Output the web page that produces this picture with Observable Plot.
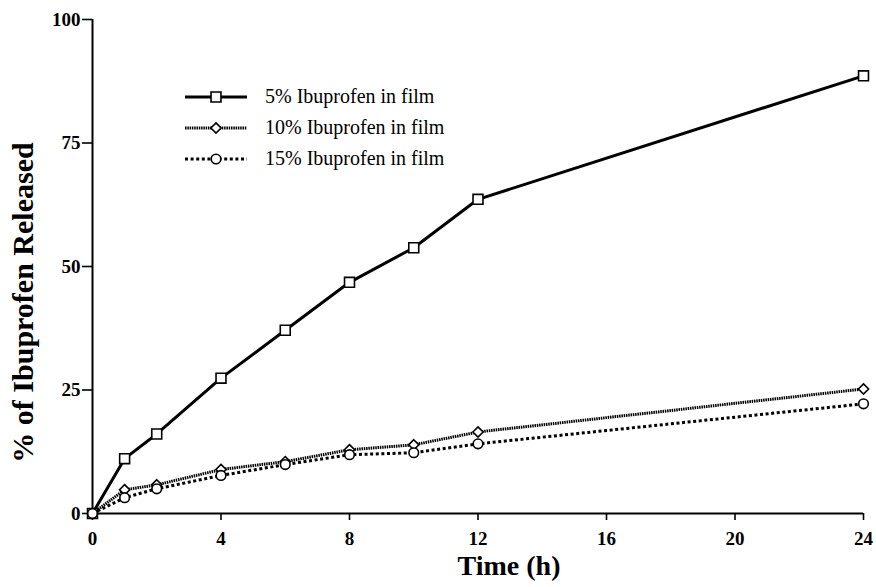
<!DOCTYPE html>
<html>
<head>
<meta charset="utf-8">
<script src="https://cdn.jsdelivr.net/npm/d3@7"></script>
<script src="https://cdn.jsdelivr.net/npm/@observablehq/plot@0.6"></script>
<style>
  body { margin: 0; background: #fff; }
  #wrap { position: relative; width: 876px; height: 587px; font-family: "Liberation Serif", "Times New Roman", serif; }
  #legend { position: absolute; left: 183px; top: 81px; }
  .row { display: flex; align-items: center; height: 31px; }
  .row svg { display: block; }
  .row span { font-size: 20px; margin-left: 16px; color: #000; white-space: nowrap; }
</style>
</head>
<body>
<div id="wrap"></div>
<script>
const times = [0, 1, 2, 4, 6, 8, 10, 12, 24];
const series5 = [0, 11.1, 16.1, 27.4, 37.1, 46.8, 53.8, 63.6, 88.6];
const series10 = [0, 4.8, 5.8, 8.9, 10.5, 12.9, 13.9, 16.5, 25.2];
const series15 = [0, 3.2, 5.0, 7.7, 9.9, 11.9, 12.3, 14.1, 22.2];
const seriesNames = ["5% Ibuprofen in film", "10% Ibuprofen in film", "15% Ibuprofen in film"];
const xTicks = [0, 4, 8, 12, 16, 20, 24];
const yTicks = [0, 25, 50, 75, 100];

const styles = [
  {dash: null, symbol: "square", r: 5.6},
  {dash: "1.5,0.8", symbol: "diamond2", r: 4.6},
  {dash: "3,2.6", symbol: "circle", r: 4.8}
];

const allSeries = [series5, series10, series15];
const data = allSeries.flatMap((vals, i) => times.map((t, j) => ({t, v: vals[j], s: seriesNames[i], i})));

const font = "'Liberation Serif', 'Times New Roman', serif";

const marks = [];
allSeries.forEach((vals, i) => {
  const d = data.filter(p => p.i === i);
  marks.push(Plot.line(d, {x: "t", y: "v", stroke: "#000", strokeWidth: 3, strokeDasharray: styles[i].dash, strokeLinecap: "butt"}));
});
allSeries.forEach((vals, i) => {
  const d = data.filter(p => p.i === i);
  marks.push(Plot.dot(d, {x: "t", y: "v", symbol: () => styles[i].symbol, r: styles[i].r, fill: "#fff", stroke: "#000", strokeWidth: 1.6}));
});

const chart = Plot.plot({
  width: 876,
  height: 587,
  marginLeft: 92,
  marginRight: 13,
  marginTop: 19,
  marginBottom: 74,
  style: {fontFamily: font, background: "#fff", color: "#000"},
  x: {domain: [0, 24]},
  y: {domain: [0, 100]},
  marks: [
    Plot.axisX({ticks: xTicks, tickSize: 7, tickPadding: 11, fontSize: 19, fontWeight: "bold", strokeWidth: 1.6, label: null}),
    Plot.axisY({ticks: yTicks, tickSize: 10, tickPadding: 2, fontSize: 19, fontWeight: "bold", strokeWidth: 1.6, label: null}),
    Plot.ruleX([0], {y1: 0, y2: 100, strokeWidth: 2}),
    Plot.ruleY([0], {x1: 0, x2: 24, strokeWidth: 2}),
    Plot.text(["Time (h)"], {frameAnchor: "bottom", dx: 31, dy: 61, fontSize: 28, fontWeight: "bold", fontFamily: font}),
    Plot.text(["% of Ibuprofen Released"], {frameAnchor: "left", textAnchor: "middle", dx: -69, dy: 36, rotate: -90, fontSize: 30, fontWeight: "bold", fontFamily: font}),
    ...marks
  ]
});
document.getElementById("wrap").appendChild(chart);

// legend
const legend = document.createElement("div");
legend.id = "legend";
styles.forEach((st, i) => {
  const row = document.createElement("div");
  row.className = "row";
  const svg = d3.create("svg").attr("width", 66).attr("height", 20);
  svg.append("line").attr("x1", 2).attr("x2", 64).attr("y1", 10).attr("y2", 10)
    .attr("stroke", "#000").attr("stroke-width", 3).attr("stroke-dasharray", st.dash);
  const sym = st.symbol === "square" ? d3.symbolSquare : st.symbol === "diamond2" ? d3.symbolDiamond2 : d3.symbolCircle;
  svg.append("path").attr("d", d3.symbol(sym, Math.PI * st.r * st.r)()).attr("transform", "translate(33,10)")
    .attr("fill", "#fff").attr("stroke", "#000").attr("stroke-width", 1.6);
  row.appendChild(svg.node());
  const span = document.createElement("span");
  span.textContent = seriesNames[i];
  row.appendChild(span);
  legend.appendChild(row);
});
document.getElementById("wrap").appendChild(legend);
</script>
</body>
</html>
